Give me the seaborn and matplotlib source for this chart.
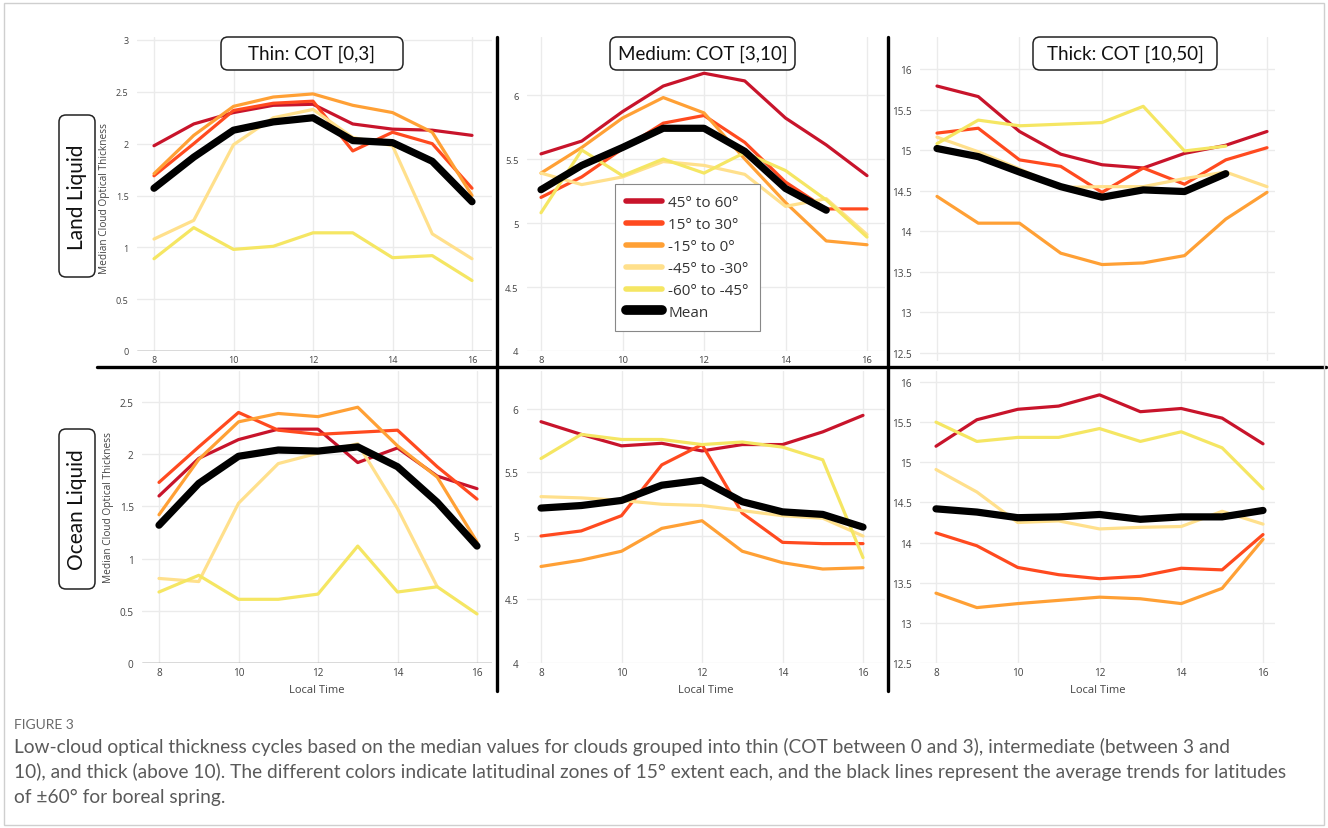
import numpy as np
import pandas as pd
import matplotlib
matplotlib.use("Agg")
import matplotlib.pyplot as plt
import seaborn as sns
from matplotlib.patches import FancyBboxPatch, Rectangle
from matplotlib.lines import Line2D
from matplotlib.transforms import IdentityTransform

# ---------------- data ----------------
hours = [8, 9, 10, 11, 12, 13, 14, 15, 16]
zones = ["45° to 60°", "15° to 30°", "-15° to 0°", "-45° to -30°", "-60° to -45°"]
zone_colors = ["#c8142b", "#ff4a1f", "#ffa035", "#ffe08c", "#f5e663"]
mean_label = "Mean"
nan = np.nan

# Land liquid, thin COT [0,3]
land_thin_z1 = [1.98, 2.19, 2.30, 2.37, 2.38, 2.19, 2.14, 2.13, 2.08]
land_thin_z2 = [1.69, 2.00, 2.32, 2.39, 2.41, 1.93, 2.11, 2.00, 1.57]
land_thin_z3 = [1.71, 2.08, 2.36, 2.45, 2.48, 2.37, 2.30, 2.11, 1.50]
land_thin_z4 = [1.08, 1.26, 1.99, 2.25, 2.33, 2.06, 1.98, 1.13, 0.89]
land_thin_z5 = [0.89, 1.19, 0.98, 1.01, 1.14, 1.14, 0.90, 0.92, 0.68]
land_thin_mean = [1.57, 1.87, 2.13, 2.21, 2.25, 2.03, 2.01, 1.83, 1.44]

# Land liquid, medium COT [3,10]
land_med_z1 = [5.54, 5.64, 5.87, 6.07, 6.17, 6.11, 5.82, 5.61, 5.37]
land_med_z2 = [5.20, 5.36, 5.58, 5.78, 5.84, 5.63, 5.32, 5.11, 5.11]
land_med_z3 = [5.39, 5.59, 5.82, 5.98, 5.86, 5.50, 5.16, 4.86, 4.83]
land_med_z4 = [5.39, 5.30, 5.36, 5.48, 5.45, 5.38, 5.13, 5.19, 4.91]
land_med_z5 = [5.08, 5.57, 5.37, 5.50, 5.39, 5.55, 5.41, 5.18, 4.89]
land_med_mean = [5.26, 5.45, 5.59, 5.74, 5.74, 5.56, 5.27, 5.10, nan]

# Land liquid, thick COT [10,50]
land_thick_z1 = [15.79, 15.66, 15.23, 14.95, 14.82, 14.78, 14.96, 15.06, 15.23]
land_thick_z2 = [15.21, 15.27, 14.88, 14.80, 14.48, 14.78, 14.58, 14.88, 15.03]
land_thick_z3 = [14.43, 14.10, 14.10, 13.73, 13.59, 13.61, 13.70, 14.15, 14.48]
land_thick_z4 = [15.16, 14.98, 14.77, 14.54, 14.55, 14.55, 14.65, 14.73, 14.55]
land_thick_z5 = [15.08, 15.37, 15.30, 15.32, 15.34, 15.54, 14.99, 15.05, nan]
land_thick_mean = [15.02, 14.92, 14.73, 14.55, 14.42, 14.51, 14.49, 14.71, nan]

# Ocean liquid, thin
ocean_thin_z1 = [1.60, 1.96, 2.14, 2.24, 2.24, 1.92, 2.06, 1.79, 1.67]
ocean_thin_z2 = [1.73, 2.07, 2.40, 2.23, 2.19, 2.21, 2.23, 1.88, 1.57]
ocean_thin_z3 = [1.42, 1.95, 2.31, 2.39, 2.36, 2.45, 2.08, 1.78, 1.16]
ocean_thin_z4 = [0.81, 0.78, 1.53, 1.91, 2.01, 2.10, 1.48, 0.73, nan]
ocean_thin_z5 = [0.68, 0.84, 0.61, 0.61, 0.66, 1.12, 0.68, 0.73, 0.47]
ocean_thin_mean = [1.32, 1.72, 1.98, 2.04, 2.03, 2.07, 1.88, 1.54, 1.12]

# Ocean liquid, medium
ocean_med_z1 = [5.90, 5.80, 5.71, 5.73, 5.67, 5.72, 5.72, 5.82, 5.95]
ocean_med_z2 = [5.00, 5.04, 5.16, 5.56, 5.72, 5.18, 4.95, 4.94, 4.94]
ocean_med_z3 = [4.76, 4.81, 4.88, 5.06, 5.12, 4.88, 4.79, 4.74, 4.75]
ocean_med_z4 = [5.31, 5.30, 5.28, 5.25, 5.24, 5.20, 5.16, 5.14, 5.00]
ocean_med_z5 = [5.61, 5.80, 5.76, 5.76, 5.72, 5.74, 5.70, 5.60, 4.83]
ocean_med_mean = [5.22, 5.24, 5.28, 5.40, 5.44, 5.27, 5.19, 5.17, 5.07]

# Ocean liquid, thick
ocean_thick_z1 = [15.20, 15.53, 15.66, 15.70, 15.84, 15.63, 15.67, 15.55, 15.23]
ocean_thick_z2 = [14.12, 13.96, 13.69, 13.60, 13.55, 13.58, 13.68, 13.66, 14.10]
ocean_thick_z3 = [13.37, 13.19, 13.24, 13.28, 13.32, 13.30, 13.24, 13.43, 14.04]
ocean_thick_z4 = [14.91, 14.63, 14.25, 14.27, 14.17, 14.19, 14.20, 14.39, 14.23]
ocean_thick_z5 = [15.50, 15.26, 15.31, 15.31, 15.42, 15.26, 15.38, 15.18, 14.67]
ocean_thick_mean = [14.42, 14.38, 14.31, 14.32, 14.35, 14.29, 14.32, 14.32, 14.40]

col_titles = ["Thin: COT [0,3]", "Medium: COT [3,10]", "Thick: COT [10,50]"]
row_titles = ["Land Liquid", "Ocean Liquid"]
y_label = "Median Cloud Optical Thickness"
x_label = "Local Time"
caption_head = "FIGURE 3"
caption_lines = [
    "Low-cloud optical thickness cycles based on the median values for clouds grouped into thin (COT between 0 and 3), intermediate (between 3 and",
    "10), and thick (above 10). The different colors indicate latitudinal zones of 15° extent each, and the black lines represent the average trends for latitudes",
    "of ±60° for boreal spring.",
]

# ---------------- figure ----------------
W, H = 1328, 829
sns.set_theme(style="white")
plt.rcParams["font.family"] = ["Open Sans", "DejaVu Sans"]
fig = plt.figure(figsize=(W / 100, H / 100), dpi=100)
fig.patch.set_facecolor("white")


def lin(p0, v0, p1, v1, p):
    return v0 + (p - p0) * (v1 - v0) / (p1 - p0)


def make_df(series):
    rows = []
    for z, vals in zip(zones, series):
        for h, v in zip(hours, vals):
            if not np.isnan(v):
                rows.append({"hour": h, "value": v, "zone": z})
    return pd.DataFrame(rows)


def mean_df(vals):
    return pd.DataFrame({"hour": hours, "value": vals}).dropna()


# each panel: box (left, top, right, bottom) in px; x anchors; y anchors; yticks
panels = [
    dict(box=(137, 38, 492, 352), xa=(154, 472), ya=(352, 0, 41, 3),
         yt=[0, 0.5, 1, 1.5, 2, 2.5, 3], series=[land_thin_z1, land_thin_z2, land_thin_z3, land_thin_z4, land_thin_z5],
         mean=land_thin_mean, xlabels=True, xl=False, zero=True, fs=6.5),
    dict(box=(527, 38, 885, 352), xa=(541, 867), ya=(352, 4, 96, 6),
         yt=[4, 4.5, 5, 5.5, 6], series=[land_med_z1, land_med_z2, land_med_z3, land_med_z4, land_med_z5],
         mean=land_med_mean, xlabels=True, xl=False, zero=False, fs=6.8),
    dict(box=(920, 38, 1275, 362), xa=(937, 1267), ya=(354, 12.5, 70, 16),
         yt=[12.5, 13, 13.5, 14, 14.5, 15, 15.5, 16], series=[land_thick_z1, land_thick_z2, land_thick_z3, land_thick_z4, land_thick_z5],
         mean=land_thick_mean, xlabels=False, xl=False, zero=False, fs=7.2),
    dict(box=(142, 372, 492, 664), xa=(159, 477), ya=(664, 0, 403, 2.5),
         yt=[0, 0.5, 1, 1.5, 2, 2.5], series=[ocean_thin_z1, ocean_thin_z2, ocean_thin_z3, ocean_thin_z4, ocean_thin_z5],
         mean=ocean_thin_mean, xlabels=True, xl=True, zero=True, fs=7.2),
    dict(box=(527, 372, 885, 664), xa=(541, 863), ya=(664, 4, 410, 6),
         yt=[4, 4.5, 5, 5.5, 6], series=[ocean_med_z1, ocean_med_z2, ocean_med_z3, ocean_med_z4, ocean_med_z5],
         mean=ocean_med_mean, xlabels=True, xl=True, zero=False, fs=7.2),
    dict(box=(920, 372, 1275, 664), xa=(936, 1263), ya=(664, 12.5, 383, 16),
         yt=[12.5, 13, 13.5, 14, 14.5, 15, 15.5, 16], series=[ocean_thick_z1, ocean_thick_z2, ocean_thick_z3, ocean_thick_z4, ocean_thick_z5],
         mean=ocean_thick_mean, xlabels=True, xl=True, zero=False, fs=7.2),
]

axes = []
for i, p in enumerate(panels):
    l, t, r, b = p["box"]
    ax = fig.add_axes([l / W, 1 - b / H, (r - l) / W, (b - t) / H])
    axes.append(ax)
    ax.set_facecolor("white")
    for s in ax.spines.values():
        s.set_visible(False)
    xl0 = lin(p["xa"][0], 8, p["xa"][1], 16, l)
    xl1 = lin(p["xa"][0], 8, p["xa"][1], 16, r)
    yp0, yv0, yp1, yv1 = p["ya"]
    yl0 = lin(yp0, yv0, yp1, yv1, b)
    yl1 = lin(yp0, yv0, yp1, yv1, t)

    df = make_df(p["series"])
    sns.lineplot(data=df, x="hour", y="value", hue="zone", hue_order=zones,
                 palette=zone_colors, linewidth=2.3, estimator=None, sort=True,
                 legend=False, ax=ax, solid_joinstyle="round", zorder=3)
    sns.lineplot(data=mean_df(p["mean"]), x="hour", y="value", color="black",
                 linewidth=5.2, estimator=None, legend=False, ax=ax,
                 solid_joinstyle="round", zorder=4)

    ax.set_xlim(xl0, xl1)
    ax.set_ylim(yl0, yl1)
    ax.set_xticks([8, 10, 12, 14, 16])
    ax.set_yticks(p["yt"])
    ax.set_yticklabels([f"{v:g}" for v in p["yt"]])
    ax.grid(True, color="#ebebeb", linewidth=1.0, zorder=0)
    ax.set_axisbelow(True)
    ax.tick_params(axis="both", length=0, labelsize=p["fs"], labelcolor="#444444")
    ax.tick_params(axis="y", pad=6)
    ax.tick_params(axis="x", pad=3)
    if not p["xlabels"]:
        ax.set_xticklabels([])
    if p["zero"]:
        ax.axhline(0, color="#555555", linewidth=1.0, zorder=2)
    ax.set_xlabel(x_label if p["xl"] else "", fontsize=8, color="#444444", labelpad=4)
    ax.set_ylabel("")

# y-axis labels (left column)
fig.text(105 / W, 1 - 199 / H, y_label, rotation=90, ha="center", va="center",
         fontsize=7.3, color="#444444")
fig.text(108 / W, 1 - 508 / H, y_label, rotation=90, ha="center", va="center",
         fontsize=7.3, color="#444444")

# legend in the top-middle panel
handles = [Line2D([0], [0], color=c, lw=4) for c in zone_colors] + [Line2D([0], [0], color="black", lw=7)]
leg = axes[1].legend(handles, zones + [mean_label], loc="upper left",
                     bbox_to_anchor=(615 / W, 1 - 185 / H), bbox_transform=fig.transFigure,
                     fontsize=11, frameon=True, fancybox=False, framealpha=1,
                     edgecolor="#888888", handlelength=2.3, handletextpad=0.45,
                     labelspacing=0.45, borderpad=0.75, borderaxespad=0)
leg.get_frame().set_linewidth(0.8)
for txt in leg.get_texts():
    txt.set_color("#333333")
leg.set_zorder(10)

ident = IdentityTransform()


def rbox(x0, y0, x1, y1, text, rotation=0, fs=13):
    patch = FancyBboxPatch((x0, H - y1), x1 - x0, y1 - y0,
                           boxstyle="round,pad=0,rounding_size=7",
                           transform=ident, facecolor="white", edgecolor="#222222",
                           linewidth=1.1, zorder=20)
    fig.add_artist(patch)
    fig.text((x0 + x1) / 2 / W, 1 - (y0 + y1) / 2 / H, text, rotation=rotation,
             ha="center", va="center", fontsize=fs, color="#111111",
             family=["Lato", "DejaVu Sans"], zorder=21)


rbox(221, 38, 403, 71, col_titles[0], fs=13.5)
rbox(610, 38, 795, 71, col_titles[1], fs=13.5)
rbox(1033, 38, 1217, 71, col_titles[2], fs=13.5)
rbox(59, 116, 95, 278, row_titles[0], rotation=90, fs=15)
rbox(59, 430, 95, 590, row_titles[1], rotation=90, fs=15)

# black dividers
for (xa, ya, xb, yb) in [(97, 368, 1326, 368), (497, 38, 497, 692), (888, 38, 888, 692)]:
    fig.add_artist(Line2D([xa, xb], [H - ya, H - yb], transform=ident, color="black",
                          linewidth=2.4, zorder=15))

# outer frame
fig.add_artist(Rectangle((4, 3), W - 8, H - 7, transform=ident, fill=False,
                         edgecolor="#cfcfcf", linewidth=1.0, zorder=30))

# caption
fig.text(14 / W, 1 - 725 / H, caption_head, ha="left", va="center", fontsize=10,
         color="#6a6a6a", family=["Lato", "DejaVu Sans"])
for k, line in enumerate(caption_lines):
    fig.text(14 / W, 1 - (747 + 25 * k) / H, line, ha="left", va="center",
             fontsize=13.8, color="#5a5a5a", family=["Lato", "DejaVu Sans"])

fig.savefig("out.png", dpi=100)
